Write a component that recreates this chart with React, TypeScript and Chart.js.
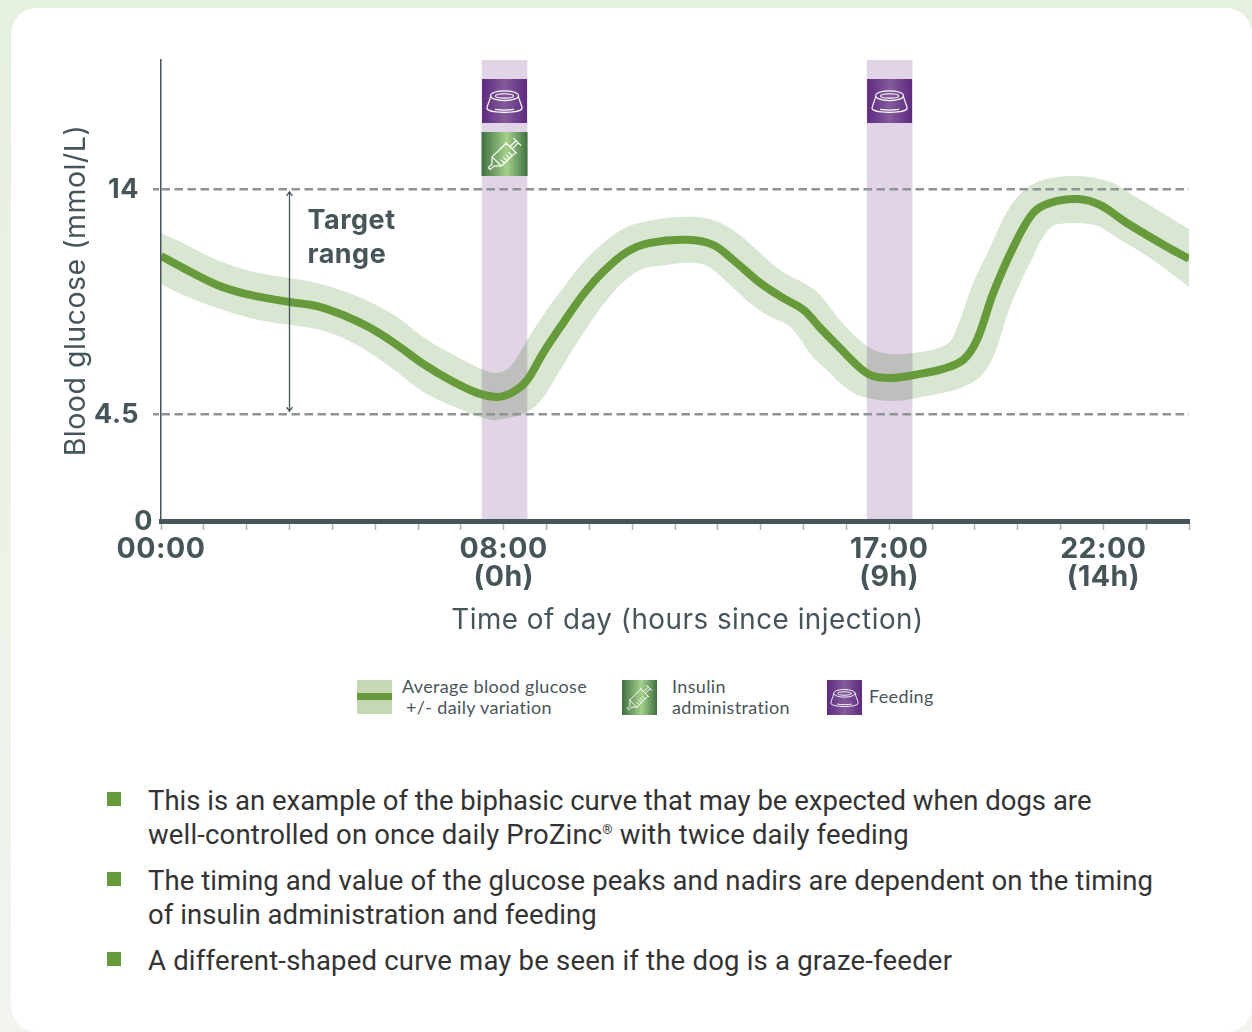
import React, { useEffect, useRef } from "react";
import { Chart, registerables } from "chart.js";

Chart.register(...registerables);

const DARK = "#46555a";
const GREEN = "#679a3a";
const AXIS_FONT = "Inter";

// Blood glucose curve (hours after midnight, mmol/L)
const meanHours = [0, 0.51, 1.31, 2.08, 3.01, 3.64, 4.25, 4.88, 5.51, 6.12, 6.75, 7.38, 7.85, 8.22, 8.55, 8.92, 9.39, 9.85, 10.32, 10.88, 11.42, 12.28, 12.89, 13.36, 13.99, 14.52, 15.0, 15.39, 15.85, 16.32, 16.62, 17.09, 17.72, 18.26, 18.73, 19.05, 19.43, 19.89, 20.36, 20.76, 21.39, 21.92, 22.55, 23.49, 24];
const meanValues = [11.17, 10.67, 9.95, 9.53, 9.23, 9.06, 8.68, 8.14, 7.42, 6.62, 5.94, 5.4, 5.23, 5.44, 5.94, 7.08, 8.35, 9.53, 10.5, 11.34, 11.72, 11.85, 11.64, 11.0, 10.03, 9.4, 8.9, 8.14, 7.29, 6.45, 6.11, 6.03, 6.2, 6.41, 6.79, 7.63, 9.61, 11.51, 12.98, 13.41, 13.57, 13.32, 12.56, 11.55, 11.05];

const upperHours = [0, 0.51, 1.31, 2.08, 3.01, 3.64, 4.25, 4.88, 5.51, 6.12, 6.75, 7.52, 7.85, 8.15, 8.55, 9.01, 9.39, 9.85, 10.32, 10.88, 11.49, 12.28, 12.89, 13.45, 13.99, 14.45, 15.08, 15.39, 15.85, 16.39, 16.86, 17.56, 18.35, 18.59, 18.96, 19.36, 19.82, 20.22, 20.69, 21.39, 22.16, 22.79, 24];
const upperValues = [12.14, 11.72, 11.0, 10.54, 10.24, 10.03, 9.7, 9.23, 8.6, 7.76, 7.08, 6.37, 6.24, 6.49, 7.63, 8.9, 9.82, 10.88, 11.72, 12.39, 12.69, 12.82, 12.69, 12.14, 11.3, 10.58, 9.95, 9.53, 8.47, 7.5, 7.08, 7.08, 7.46, 8.18, 10.03, 11.55, 13.24, 14.04, 14.42, 14.54, 14.29, 13.62, 12.31];

const lowerHours = [0, 0.51, 1.31, 2.08, 3.01, 3.64, 4.25, 4.88, 5.51, 6.12, 6.75, 7.52, 7.85, 8.55, 8.92, 9.32, 9.71, 10.18, 10.65, 11.18, 11.65, 12.42, 12.82, 13.36, 13.75, 14.15, 14.69, 15.22, 15.62, 15.85, 16.32, 17.09, 17.88, 18.66, 19.12, 19.43, 19.82, 20.29, 20.76, 21.29, 21.85, 22.39, 23.16, 24];
const lowerValues = [9.99, 9.53, 8.98, 8.56, 8.26, 8.09, 7.71, 7.08, 6.28, 5.44, 4.89, 4.34, 4.26, 4.6, 5.19, 6.37, 7.5, 8.77, 9.82, 10.58, 10.75, 10.88, 10.67, 9.82, 9.19, 8.68, 8.18, 6.91, 6.24, 5.82, 5.27, 5.06, 5.27, 5.61, 6.07, 6.91, 9.02, 10.88, 12.35, 12.56, 12.44, 11.85, 11.0, 9.87];

// Events and axes
const feedingHours = [8.02, 17.01];
const insulinHours = [8.02];
const yMax = 19.43;
const yTicks = [0, 4.5, 14];
const targetRange = [4.5, 14];
const xLabelHours = [0, 8, 17, 22];
const xLabelTexts = [["00:00"], ["08:00", "(0h)"], ["17:00", "(9h)"], ["22:00", "(14h)"]];

// Notes under the chart
const noteLines = [
  "This is an example of the biphasic curve that may be expected when dogs are",
  "well-controlled on once daily ProZinc|with twice daily feeding",
  "The timing and value of the glucose peaks and nadirs are dependent on the timing",
  "of insulin administration and feeding",
  "A different-shaped curve may be seen if the dog is a graze-feeder",
];
const noteHasBullet = [true, false, true, false, true];
const noteTops = [784, 818, 864, 898, 944];
const noteSpacing = [0, 0.16, 0.08, 0.08, 0.2];

type IconKind = "feed" | "insulin";

function drawIcon(ctx: CanvasRenderingContext2D, kind: IconKind, x: number, y: number, w: number, h: number) {
  const g = ctx.createLinearGradient(x, 0, x + w, 0);
  if (kind === "feed") {
    g.addColorStop(0, "#5e2a80");
    g.addColorStop(0.5, "#835b9b");
    g.addColorStop(1, "#5e2a80");
  } else {
    g.addColorStop(0, "#3f7042");
    g.addColorStop(0.55, "#a6d18a");
    g.addColorStop(1, "#3f7042");
  }
  ctx.save();
  ctx.fillStyle = g;
  ctx.fillRect(x, y, w, h);
  ctx.translate(x, y);
  ctx.scale(w, h);
  ctx.strokeStyle = "#ffffff";
  ctx.lineWidth = 0.026;
  ctx.lineJoin = "round";
  ctx.lineCap = "round";
  ctx.beginPath();
  if (kind === "feed") {
    ctx.ellipse(0.5, 0.38, 0.31, 0.11, 0, 0, Math.PI * 2);
    ctx.moveTo(0.7, 0.385);
    ctx.ellipse(0.5, 0.385, 0.2, 0.05, 0, 0, Math.PI * 2);
    ctx.moveTo(0.19, 0.4);
    ctx.bezierCurveTo(0.17, 0.5, 0.12, 0.58, 0.11, 0.66);
    ctx.bezierCurveTo(0.11, 0.79, 0.89, 0.79, 0.89, 0.66);
    ctx.bezierCurveTo(0.88, 0.58, 0.83, 0.5, 0.81, 0.4);
    ctx.moveTo(0.3, 0.69);
    ctx.bezierCurveTo(0.42, 0.71, 0.58, 0.71, 0.7, 0.69);
    ctx.stroke();
  } else {
    ctx.translate(0.5, 0.5);
    ctx.rotate(-Math.PI / 4);
    ctx.rect(-0.24, -0.145, 0.44, 0.29);
    ctx.moveTo(-0.24, -0.145);
    ctx.lineTo(-0.36, -0.03);
    ctx.lineTo(-0.47, -0.03);
    ctx.lineTo(-0.47, 0.03);
    ctx.lineTo(-0.36, 0.03);
    ctx.lineTo(-0.24, 0.145);
    ctx.moveTo(0.2, -0.17);
    ctx.lineTo(0.2, 0.17);
    ctx.moveTo(0.2, -0.035);
    ctx.lineTo(0.39, -0.035);
    ctx.moveTo(0.2, 0.035);
    ctx.lineTo(0.39, 0.035);
    ctx.moveTo(0.39, -0.11);
    ctx.lineTo(0.39, 0.11);
    [-0.15, -0.07, 0.01, 0.09].forEach((t) => {
      ctx.moveTo(t, 0.145);
      ctx.lineTo(t, 0.04);
    });
    ctx.stroke();
  }
  ctx.restore();
}

const chartExtras = {
  id: "chartExtras",
  beforeDraw(chart: any) {
    const y = chart.scales.y;
    (chart.ctx as any).letterSpacing = "0.5px";
    y.getLabelItems().forEach((item: any) => {
      item.options.translation[1] = y.getPixelForValue(parseFloat(item.label)) + 1;
      if (item.label === "0") item.options.translation[0] = y.right - 8;
    });
  },
  beforeDatasetDraw(chart: any, args: any) {
    if (args.meta.type === "bar") chart.ctx.globalCompositeOperation = "multiply";
  },
  afterDatasetDraw(chart: any) {
    chart.ctx.globalCompositeOperation = "source-over";
  },
  afterDraw(chart: any) {
    const { ctx, scales } = chart;
    const { x, y } = scales;
    feedingHours.forEach((h) => drawIcon(ctx, "feed", x.getPixelForValue(h) - 22.5, 79, 45, 44));
    insulinHours.forEach((h) => drawIcon(ctx, "insulin", x.getPixelForValue(h) - 23, 132, 46, 44));
    const ax = x.getPixelForValue(3);
    const top = y.getPixelForValue(targetRange[1]) + 3;
    const bottom = y.getPixelForValue(targetRange[0]) - 3;
    ctx.save();
    ctx.strokeStyle = DARK;
    ctx.lineWidth = 1.3;
    ctx.beginPath();
    ctx.moveTo(ax, top);
    ctx.lineTo(ax, bottom);
    ctx.moveTo(ax - 3, top + 4);
    ctx.lineTo(ax, top);
    ctx.lineTo(ax + 3, top + 4);
    ctx.moveTo(ax - 3, bottom - 4);
    ctx.lineTo(ax, bottom);
    ctx.lineTo(ax + 3, bottom - 4);
    ctx.stroke();
    ctx.fillStyle = DARK;
    ctx.font = `700 27px ${AXIS_FONT}`;
    ctx.textBaseline = "alphabetic";
    ctx.textAlign = "left";
    ctx.fillText("Target", ax + 18, 229);
    ctx.fillText("range", ax + 18, 263);
    ctx.restore();
  },
};

function zip(xs: number[], ys: number[]) {
  return xs.map((x, i) => ({ x, y: ys[i] }));
}

function LegendIcon({ kind, left }: { kind: IconKind; left: number }) {
  const ref = useRef<HTMLCanvasElement>(null);
  useEffect(() => {
    const ctx = ref.current!.getContext("2d")!;
    drawIcon(ctx, kind, 0, 0, 35, 35);
  }, [kind]);
  return <canvas ref={ref} width={35} height={35} style={{ position: "absolute", left, top: 680 }} />;
}

const legendText: React.CSSProperties = {
  position: "absolute",
  font: "18px Lato",
  letterSpacing: "0.35px",
  color: "#4a5558",
  whiteSpace: "pre",
  lineHeight: "20px",
};

export default function App() {
  const ref = useRef<HTMLCanvasElement>(null);

  useEffect(() => {
    document.body.style.margin = "0";
    const chart = new Chart(ref.current!, {
      type: "line",
      data: {
        datasets: [
          {
            label: "Upper",
            data: zip(upperHours, upperValues),
            borderWidth: 0,
            pointRadius: 0,
            tension: 0.35,
            backgroundColor: "#d9e6d2",
            fill: 1,
            order: 4,
          },
          {
            label: "Lower",
            data: zip(lowerHours, lowerValues),
            borderWidth: 0,
            pointRadius: 0,
            tension: 0.35,
            fill: false,
            order: 4,
          },
          {
            type: "bar",
            label: "Feeding",
            data: feedingHours.map((x) => ({ x, y: yMax })),
            backgroundColor: "#e0d4e6",
            barThickness: 45,
            order: 2,
          },
          {
            label: "Average blood glucose",
            data: zip(meanHours, meanValues),
            borderColor: GREEN,
            borderWidth: 8,
            pointRadius: 0,
            tension: 0.35,
            fill: false,
            order: 1,
          },
        ] as any,
      },
      plugins: [chartExtras],
      options: {
        responsive: false,
        animation: false,
        events: [],
        layout: { padding: { left: 59, top: 60, right: 63, bottom: 0 } },
        plugins: { legend: { display: false }, tooltip: { enabled: false } },
        scales: {
          x: {
            type: "linear",
            min: 0,
            max: 24,
            offset: false,
            afterFit: (s: any) => {
              s.height = 129;
            },
            border: { color: DARK, width: 5, z: 2 },
            grid: {
              offset: false,
              drawOnChartArea: false,
              drawTicks: true,
              tickLength: 9,
              tickColor: "#aeb3b5",
              tickWidth: 1.5,
            },
            ticks: {
              stepSize: 1,
              autoSkip: false,
              maxRotation: 0,
              padding: 5,
              color: DARK,
              font: { family: AXIS_FONT, size: 28.5, weight: 700, lineHeight: 1 },
              callback: (v: any) => {
                const i = xLabelHours.indexOf(v);
                return i >= 0 ? xLabelTexts[i] : "";
              },
            },
            title: {
              display: true,
              text: "   Time of day (hours since injection)",
              color: DARK,
              font: { family: AXIS_FONT, size: 27.8, weight: 400, lineHeight: 1.2 },
              padding: { top: 0, bottom: 13 },
            },
          },
          y: {
            min: 0,
            max: yMax,
            afterBuildTicks: (s: any) => {
              s.ticks = yTicks.map((value) => ({ value }));
            },
            afterFit: (s: any) => {
              s.width = 102;
            },
            border: { color: DARK, width: 1.5, dash: [8.5, 4.5], z: 2 },
            grid: {
              z: 1,
              lineWidth: 2.5,
              color: (c: any) => (c.tick && c.tick.value === 0 ? "rgba(0,0,0,0)" : "#8f9496"),
              tickLength: 8,
              tickBorderDash: [6, 4],
            },
            ticks: {
              padding: 14,
              color: DARK,
              font: { family: AXIS_FONT, size: 27, weight: 700, lineHeight: 1 },
              callback: (v: any) => String(v),
            },
            title: {
              display: true,
              text: "Blood glucose (mmol/L)",
              color: DARK,
              font: { family: AXIS_FONT, size: 28.5, weight: 400, lineHeight: 1.2 },
              padding: { top: 0, bottom: 0 },
            },
          },
        },
      } as any,
    });
    return () => chart.destroy();
  }, []);

  return (
    <div style={{ position: "relative", width: 1252, height: 1032, overflow: "hidden", background: "linear-gradient(180deg, #e6f0e0 0%, #f1f4ef 100%)" }}>
      <div style={{ position: "absolute", left: 11, top: 8, width: 1241, height: 1024, borderRadius: 26, background: "#ffffff" }} />
      <canvas ref={ref} width={1252} height={650} style={{ position: "absolute", left: 0, top: 0, display: "block" }} />

      <div style={{ position: "absolute", left: 357, top: 680, width: 35, height: 34, background: "#c5d7b3" }} />
      <div style={{ position: "absolute", left: 357, top: 693, width: 35, height: 7, background: GREEN }} />
      <div style={{ ...legendText, left: 402, top: 676 }}>Average blood glucose</div>
      <div style={{ ...legendText, left: 401, top: 697 }}>{" +/- daily variation"}</div>
      <LegendIcon kind="insulin" left={622} />
      <div style={{ ...legendText, left: 672, top: 676 }}>Insulin</div>
      <div style={{ ...legendText, left: 672, top: 697 }}>administration</div>
      <LegendIcon kind="feed" left={827} />
      <div style={{ ...legendText, left: 869, top: 686 }}>Feeding</div>

      {noteLines.map((line, i) => {
        const parts = line.split("|");
        return (
          <React.Fragment key={i}>
            {noteHasBullet[i] && <div style={{ position: "absolute", left: 107, top: noteTops[i] + 8, width: 14, height: 14, background: GREEN }} />}
            <div style={{ position: "absolute", left: 148, top: noteTops[i], font: "27.5px Roboto", letterSpacing: noteSpacing[i], lineHeight: "34px", color: "#333333", whiteSpace: "pre" }}>
              {parts[0]}
              {parts.length > 1 && (
                <>
                  <sup style={{ fontSize: 13, lineHeight: 0 }}>®</sup> {parts[1]}
                </>
              )}
            </div>
          </React.Fragment>
        );
      })}
    </div>
  );
}
